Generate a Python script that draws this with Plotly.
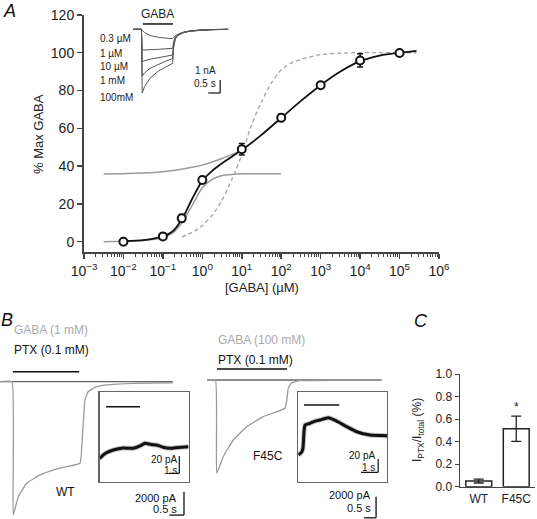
import plotly.graph_objects as go

W, H = 537, 519
FONT = "Liberation Sans, Arial, sans-serif"

# ---------------- Panel A : concentration-response ----------------
gaba_conc = [1e-2, 1e-1, 0.3, 1, 10, 100, 1000, 1e4, 1e5]
pct_max = [0.0, 2.8, 12.4, 32.6, 48.9, 65.6, 82.8, 95.9, 99.8]
pct_err = [0.6, 0.8, 2.0, 1.5, 3.0, 2.0, 1.5, 3.5, 0.6]

# fitted curves (log10 concentration, % max)
fit_logc = [-2, -1.5, -1, -0.75, -0.5, -0.25, 0, 0.25, 0.5, 0.75, 1, 1.5, 2, 2.5, 3, 3.5, 4, 4.5, 5, 5.43]
fit_total = [0.3, 0.8, 2.8, 5.5, 12.5, 23, 32.3, 37.5, 41.5, 45, 48.5, 56.5, 65.5, 74.5, 82.8, 90, 95.5, 98.5, 100, 101]

high_logc = [-2.5, -2, -1.5, -1, -0.75, -0.5, -0.25, 0, 0.25, 0.5, 0.75, 1, 1.5, 2]
high_comp = [0, 0.2, 0.6, 2, 4.6, 10.5, 19.5, 28.5, 33, 35, 35.6, 35.9, 36, 36]

low_logc = [-2.5, -2, -1.5, -1, -0.5, 0, 0.5, 1.0]
low_comp = [35.8, 36, 36.3, 37, 38.5, 40.5, 44, 48.3]

single_logc = [-0.52, -0.25, 0, 0.25, 0.5, 0.75, 1, 1.25, 1.5, 1.75, 2, 2.25, 2.5, 3, 3.5, 4, 5.43]
single_fit = [2.5, 5, 8.5, 14, 22, 33, 46, 62, 74, 84, 91, 94.5, 96.5, 99, 99.7, 100, 100]

x_ticks = [1e-3, 1e-2, 1e-1, 1, 10, 100, 1e3, 1e4, 1e5, 1e6]
x_ticktext = ["10<sup>−3</sup>", "10<sup>−2</sup>", "10<sup>−1</sup>", "10<sup>0</sup>", "10<sup>1</sup>",
              "10<sup>2</sup>", "10<sup>3</sup>", "10<sup>4</sup>", "10<sup>5</sup>", "10<sup>6</sup>"]

# inset A: GABA-evoked currents (s, nA)
insA_t = [-0.35, -0.01, 0.02, 0.12, 0.35, 0.7, 1.0, 1.29, 1.33, 1.4, 1.5, 1.7, 2.0, 2.4, 2.9, 3.6]
insA_labels = ["0.3 µM", "1 µM", "10 µM", "1 mM", "100mM"]
insA_03uM = [0, 0, -0.08, -0.25, -0.48, -0.62, -0.68, -0.72, -0.62, -0.5, -0.38, -0.24, -0.13, -0.06, -0.02, 0]
insA_1uM = [0, 0, -1.6, -1.6, -1.57, -1.54, -1.5, -1.46, -0.95, -0.62, -0.42, -0.25, -0.13, -0.06, -0.02, 0]
insA_10uM = [0, 0, -2.5, -2.42, -2.3, -2.18, -2.08, -1.98, -1.1, -0.66, -0.44, -0.26, -0.14, -0.06, -0.02, 0]
insA_1mM = [0, 0, -3.6, -3.35, -3.0, -2.68, -2.45, -2.25, -1.25, -0.7, -0.46, -0.27, -0.14, -0.07, -0.02, 0]
insA_100mM = [0, 0, -4.9, -4.4, -3.75, -3.2, -2.9, -2.62, -1.4, -0.75, -0.48, -0.28, -0.15, -0.07, -0.02, 0]

# ---------------- Panel B : PTX / GABA traces ----------------
wt_t = [-0.41, 0.0, 0.04, 0.215, 0.5, 0.956, 1.41, 1.87, 2.32, 2.41, 2.49, 2.60, 2.83, 3.23, 4.13, 5.49]
wt_gaba = [0, 0, -11.4, -9.83, -8.68, -7.97, -7.55, -7.26, -6.97, -4.41, -1.56, -0.85, -0.48, -0.28, -0.14, -0.09]
wt_ptx_t = [-0.41, 5.49]
wt_ptx = [0, 0]

f45_t = [-0.375, -0.02, 0.03, 0.30, 0.72, 1.28, 1.97, 2.875, 2.95, 3.01, 3.15, 3.5, 6.9]
f45_gaba = [0, 0, -8.6, -7.07, -5.53, -4.30, -3.38, -2.6, -1.84, -0.77, -0.25, -0.06, 0]
f45_ptx_t = [-0.375, 6.9]
f45_ptx = [0, 0]

# insets: PTX-evoked current (s, pA)
wt_in_t = [0.0, 0.05, 0.62, 1.31, 2.24, 3.22, 3.86, 4.33, 4.9, 5.45, 6.05, 6.71, 7.48, 8.48]
wt_in_i = [-1, 0, 5.8, 9.2, 11.6, 11.2, 13.9, 17, 15.6, 15, 12.4, 11.2, 12.1, 13.1]
f45_in_t = [0.0, 0.2, 0.27, 0.33, 0.39, 0.68, 0.97, 1.25, 1.73, 2.22, 2.8, 3.38, 4.14, 5.13]
f45_in_i = [0, 4.5, 10.5, 35, 45, 47.7, 51, 52.6, 56, 51, 42.6, 35, 30, 29]

# ---------------- Panel C : bar chart ----------------
c_groups = ["WT", "F45C"]
c_vals = [0.05, 0.515]
c_err = [0.017, 0.112]
c_yticks = [0.0, 0.2, 0.4, 0.6, 0.8, 1.0]


# ---------------- helpers (layout in pixels) ----------------
def xdom(l, r):
    return [l / W, r / W]


def ydom(top, bottom):
    return [1 - bottom / H, 1 - top / H]


def xrng(l, r, zero_px, ppu):
    return [(l - zero_px) / ppu, (r - zero_px) / ppu]


def yrng(top, bottom, zero_px, ppu):
    return [(zero_px - bottom) / ppu, (zero_px - top) / ppu]


annotations = []
shapes = []


def ann(text, px, py, size=12, color="#111", xanchor="center", italic=False, angle=0):
    annotations.append(dict(
        text=text, x=px / W, y=1 - py / H, xref="paper", yref="paper",
        xanchor=xanchor, yanchor="middle", showarrow=False, textangle=angle,
        font=dict(family=FONT, size=size, color=color,
                  style="italic" if italic else "normal"),
    ))


def seg(xref, yref, x0, y0, x1, y1, color="#111", width=1.5):
    shapes.append(dict(type="line", xref=xref, yref=yref, x0=x0, y0=y0, x1=x1, y1=y1,
                       line=dict(color=color, width=width)))


fig = go.Figure()

AX = "#444"
GRAY = "#9a9a9a"


def logs(v):
    return [10 ** a for a in v]


# ---- Panel A main
fig.add_trace(go.Scatter(x=logs(high_logc), y=high_comp, mode="lines", line=dict(color=GRAY, width=1.5, shape="spline", smoothing=0.6), xaxis="x", yaxis="y"))
fig.add_trace(go.Scatter(x=logs(low_logc), y=low_comp, mode="lines", line=dict(color=GRAY, width=1.5, shape="spline", smoothing=0.6), xaxis="x", yaxis="y"))
fig.add_trace(go.Scatter(x=logs(single_logc), y=single_fit, mode="lines", line=dict(color="#a8a8a8", width=1.4, dash="4px,3px", shape="spline", smoothing=0.6), xaxis="x", yaxis="y"))
fig.add_trace(go.Scatter(x=logs(fit_logc), y=fit_total, mode="lines", line=dict(color="#111", width=1.8, shape="spline", smoothing=0.6), xaxis="x", yaxis="y"))
fig.add_trace(go.Scatter(x=gaba_conc, y=pct_max, mode="markers",
                         marker=dict(symbol="circle", size=8, color="white", line=dict(color="#111", width=2)),
                         error_y=dict(type="data", array=pct_err, color="#111", thickness=1.5, width=3),
                         xaxis="x", yaxis="y"))

# ---- Panel A inset
insA_sets = [insA_03uM, insA_1uM, insA_10uM, insA_1mM, insA_100mM]
for s in insA_sets:
    fig.add_trace(go.Scatter(x=insA_t, y=s, mode="lines", line=dict(color="#555", width=1), xaxis="x2", yaxis="y2"))

# ---- Panel B main traces
fig.add_trace(go.Scatter(x=wt_ptx_t, y=wt_ptx, mode="lines", line=dict(color="#666", width=1.3), xaxis="x3", yaxis="y3"))
fig.add_trace(go.Scatter(x=wt_t, y=wt_gaba, mode="lines", line=dict(color=GRAY, width=1.3, shape="spline", smoothing=0.3), xaxis="x3", yaxis="y3"))
fig.add_trace(go.Scatter(x=f45_ptx_t, y=f45_ptx, mode="lines", line=dict(color="#666", width=1.3), xaxis="x5", yaxis="y5"))
fig.add_trace(go.Scatter(x=f45_t, y=f45_gaba, mode="lines", line=dict(color=GRAY, width=1.3, shape="spline", smoothing=0.3), xaxis="x5", yaxis="y5"))

# ---- Panel B insets
fig.add_trace(go.Scatter(x=wt_in_t, y=wt_in_i, mode="lines", line=dict(color="#888", width=5, shape="spline", smoothing=0.5), opacity=0.5, xaxis="x4", yaxis="y4"))
fig.add_trace(go.Scatter(x=wt_in_t, y=wt_in_i, mode="lines", line=dict(color="#111", width=3, shape="spline", smoothing=0.5), xaxis="x4", yaxis="y4"))
fig.add_trace(go.Scatter(x=f45_in_t, y=f45_in_i, mode="lines", line=dict(color="#888", width=5, shape="spline", smoothing=0.5), opacity=0.5, xaxis="x6", yaxis="y6"))
fig.add_trace(go.Scatter(x=f45_in_t, y=f45_in_i, mode="lines", line=dict(color="#111", width=3, shape="spline", smoothing=0.5), xaxis="x6", yaxis="y6"))

# ---- Panel C
fig.add_trace(go.Bar(x=[0, 1], y=c_vals, width=0.69, marker=dict(color="white", line=dict(color="#222", width=1.5)),
                     error_y=dict(type="data", array=c_err, color="#222", thickness=1.3, width=5),
                     xaxis="x7", yaxis="y7"))
fig.add_trace(go.Scatter(x=[1], y=[0.70], mode="text", text=["*"], textfont=dict(family=FONT, size=12, color="#222"),
                         xaxis="x7", yaxis="y7"))

hidden = dict(visible=False, showgrid=False, zeroline=False, automargin=False)
boxed = dict(showline=True, mirror=True, linecolor="#666", linewidth=1.2, ticks="", showticklabels=False,
             showgrid=False, zeroline=False, automargin=False)

# inset / trace geometry (pixel boxes, zero positions, pixels per unit)
A2 = dict(l=130, r=236, top=12, bottom=100, t0=141.7, sx=24, i0=29.3, sy=13)
B3 = dict(l=0, r=192, top=365, bottom=519, t0=12, sx=29.3, i0=381.7, sy=11.7)
B5 = dict(l=200, r=392, top=365, bottom=519, t0=216, sx=24, i0=380, sy=10.85)
B4 = dict(l=99.5, r=188.5, top=392, bottom=482, t0=99.5, sx=10.5, i0=458, sy=0.865)
B6 = dict(l=298.3, r=387, top=392.3, bottom=482, t0=298.3, sx=17.3, i0=455, sy=0.665)


def geom_axes(g):
    return (dict(domain=xdom(g["l"], g["r"]), range=xrng(g["l"], g["r"], g["t0"], g["sx"])),
            dict(domain=ydom(g["top"], g["bottom"]), range=yrng(g["top"], g["bottom"], g["i0"], g["sy"])))


x2, y2 = geom_axes(A2)
x3, y3 = geom_axes(B3)
x4, y4 = geom_axes(B4)
x5, y5 = geom_axes(B5)
x6, y6 = geom_axes(B6)

tickfont = dict(family=FONT, size=14, color="#222")

fig.update_layout(
    width=W, height=H, margin=dict(l=0, r=0, t=0, b=0, pad=0, autoexpand=False),
    paper_bgcolor="white", plot_bgcolor="rgba(0,0,0,0)", showlegend=False,
    xaxis=dict(type="log", range=[-3, 6], domain=xdom(84, 439), anchor="y", automargin=False,
               tickmode="array", tickvals=x_ticks, ticktext=x_ticktext,
               showline=True, linecolor=AX, linewidth=2, ticks="outside", ticklen=5, tickwidth=1.5, tickcolor=AX,
               minor=dict(ticks="outside", ticklen=3, tickwidth=1, tickcolor=AX, dtick="D1", showgrid=False),
               showgrid=False, zeroline=False, tickfont=tickfont),
    yaxis=dict(range=[-5.3, 120], domain=ydom(14.9, 251.7), anchor="x", automargin=False,
               tickmode="array", tickvals=[0, 20, 40, 60, 80, 100, 120],
               showline=True, linecolor=AX, linewidth=2, ticks="outside", ticklen=5, tickwidth=1.5, tickcolor=AX,
               showgrid=False, zeroline=False, tickfont=tickfont),
    xaxis2=dict(**x2, anchor="y2", **hidden),
    yaxis2=dict(**y2, anchor="x2", **hidden),
    xaxis3=dict(**x3, anchor="y3", **hidden),
    yaxis3=dict(**y3, anchor="x3", **hidden),
    xaxis4=dict(**x4, anchor="y4", **boxed),
    yaxis4=dict(**y4, anchor="x4", **boxed),
    xaxis5=dict(**x5, anchor="y5", **hidden),
    yaxis5=dict(**y5, anchor="x5", **hidden),
    xaxis6=dict(**x6, anchor="y6", **boxed),
    yaxis6=dict(**y6, anchor="x6", **boxed),
    xaxis7=dict(domain=xdom(460, 535), range=[-0.5, 1.5], anchor="y7", automargin=False,
                tickmode="array", tickvals=[0, 1], ticktext=c_groups, ticks="",
                showline=True, linecolor=AX, linewidth=1.5, showgrid=False, zeroline=False,
                tickfont=dict(family=FONT, size=12, color="#222")),
    yaxis7=dict(domain=ydom(374, 486.7), range=[0, 1.0], anchor="x7", automargin=False,
                tickmode="array", tickvals=c_yticks, tickformat=".1f",
                showline=True, linecolor=AX, linewidth=1.5, ticks="outside", ticklen=4, tickcolor=AX,
                showgrid=False, zeroline=False, tickfont=dict(family=FONT, size=12, color="#222")),
)

# ---- application bars & scale bars (data units of their own axes)
seg("x2", "y2", 0.05, 0.41, 1.3, 0.41, "#111", 1.5)           # GABA bar
seg("x2", "y2", 3.27, -3.9, 3.27, -4.9, "#111", 1.2)          # 1 nA
seg("x2", "y2", 2.77, -4.9, 3.27, -4.9, "#111", 1.2)          # 0.5 s

seg("x3", "y3", 0.03, 0.855, 2.29, 0.855, "#111", 1.6)        # PTX bar WT
seg("x3", "y3", 5.87, -9.4, 5.87, -11.4, "#111", 1.3)         # 2000 pA
seg("x3", "y3", 5.37, -11.4, 5.87, -11.4, "#111", 1.3)        # 0.5 s
seg("x5", "y5", 0.04, 1.01, 2.96, 1.01, "#111", 1.6)          # PTX bar F45C
seg("x5", "y5", 6.67, -10.76, 6.67, -12.7, "#111", 1.3)
seg("x5", "y5", 6.17, -12.7, 6.67, -12.7, "#111", 1.3)

seg("x4", "y4", 0.62, 59.3, 3.86, 59.3, "#111", 1.6)          # inset bars
seg("x4", "y4", 7.6, 2.3, 7.6, -17.7, "#111", 1.2)
seg("x4", "y4", 6.6, -17.7, 7.6, -17.7, "#111", 1.2)
seg("x6", "y6", 0.33, 75.2, 2.37, 75.2, "#111", 1.6)
seg("x6", "y6", 4.62, -6, 4.62, -26, "#111", 1.2)
seg("x6", "y6", 3.62, -26, 4.62, -26, "#111", 1.2)

fig.update_layout(shapes=shapes)

# ---- text
ann("A", 9, 11, 18, "#111", italic=True)
ann("B", 7, 320, 18, "#111", italic=True)
ann("C", 421, 321, 18, "#111", italic=True)

ann("% Max GABA", 38, 134, 13, "#222", angle=-90)
ann("[GABA] (µM)", 262, 288, 13, "#222")

ann("GABA", 157, 14, 12, "#222")
for lab, yy in zip(insA_labels, [38, 53, 66.5, 81, 98]):
    ann(lab, 98, yy, 10, "#222", xanchor="left")
ann("1 nA", 218, 70.5, 10, "#222", xanchor="right")
ann("0.5 s", 218, 83.5, 10, "#222", xanchor="right")

ann("GABA (1 mM)", 12, 330, 12, "#aaa", xanchor="left")
ann("PTX (0.1 mM)", 12, 350, 12, "#111", xanchor="left")
ann("GABA (100 mM)", 216, 340, 12, "#aaa", xanchor="left")
ann("PTX (0.1 mM)", 216, 360, 12, "#111", xanchor="left")
ann("WT", 65, 492, 12, "#111")
ann("F45C", 268, 456, 12, "#111")
ann("2000 pA", 179, 497.5, 11, "#111", xanchor="right")
ann("0.5 s", 179, 509, 11, "#111", xanchor="right")
ann("2000 pA", 373, 495, 11, "#111", xanchor="right")
ann("0.5 s", 373, 508, 11, "#111", xanchor="right")
ann("20 pA", 179, 459, 10, "#111", xanchor="right")
ann("1 s", 179, 470, 10, "#111", xanchor="right")
ann("20 pA", 377, 455.5, 10, "#111", xanchor="right")
ann("1 s", 377, 467, 10, "#111", xanchor="right")

ann("I<sub>PTX</sub>/I<sub>total</sub> (%)", 418, 430, 12, "#222", angle=-90)

fig.update_layout(annotations=annotations)

fig.write_html("out.html",
               config={"displayModeBar": False, "staticPlot": True},
               post_script="document.body.style.margin='0px';document.body.style.overflow='hidden';")
